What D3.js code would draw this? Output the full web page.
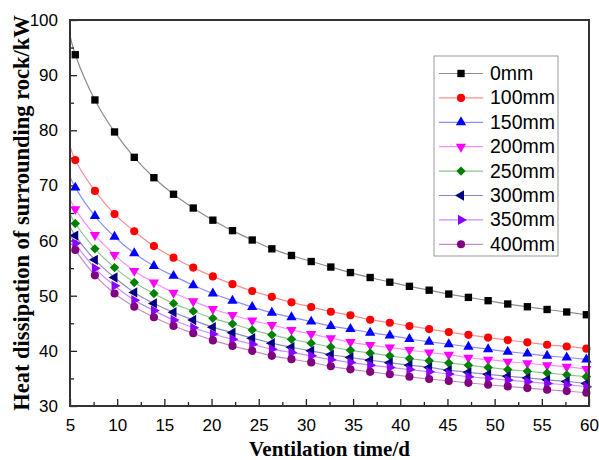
<!DOCTYPE html>
<html>
<head>
<meta charset="utf-8">
<script src="https://cdn.jsdelivr.net/npm/d3@7"></script>
<style>
  body { margin: 0; background: #fff; }
  .tick text { font-family: "Liberation Sans", Arial, sans-serif; font-size: 17px; fill: #000; }
</style>
</head>
<body>
<div id="chart"></div>
<script>
// ventilation time (d) of the marked points
const times = [5.56, 7.64, 9.72, 11.81, 13.89, 15.97, 18.06, 20.14, 22.22, 24.31, 26.39, 28.47, 30.56,
  32.64, 34.72, 36.81, 38.89, 40.97, 43.06, 45.14, 47.22, 49.31, 51.39, 53.47, 55.56, 57.64, 59.72];
const startTime = 5;

const seriesNames = ["0mm", "100mm", "150mm", "200mm", "250mm", "300mm", "350mm", "400mm"];
// value of each curve where it meets the y axis (t = 5)
const startValues = [97.2, 77.1, 71.6, 67.5, 64.8, 62.5, 61.0, 59.8];

const s0 = [93.7, 85.5, 79.7, 75.1, 71.4, 68.4, 65.9, 63.7, 61.8, 60.1, 58.5, 57.3, 56.2, 55.2, 54.2,
  53.3, 52.45, 51.7, 51.0, 50.3, 49.7, 49.1, 48.5, 48.0, 47.5, 47.05, 46.55];
const s100 = [74.6, 69.0, 64.8, 61.7, 59.0, 56.9, 55.1, 53.5, 52.1, 50.85, 49.8, 48.8, 47.95, 47.1, 46.45,
  45.65, 45.1, 44.5, 43.95, 43.4, 42.9, 42.4, 41.95, 41.55, 41.1, 40.8, 40.4];
const s150 = [69.6, 64.45, 60.7, 57.7, 55.4, 53.6, 51.9, 50.4, 49.1, 47.95, 46.9, 46.1, 45.3, 44.5, 43.95,
  43.3, 42.8, 42.15, 41.65, 41.2, 40.75, 40.3, 39.85, 39.5, 39.1, 38.8, 38.45];
const s200 = [65.7, 61.0, 57.4, 54.5, 52.4, 50.55, 49.0, 47.6, 46.5, 45.5, 44.7, 43.8, 43.05, 42.3, 41.6,
  41.05, 40.6, 40.15, 39.7, 39.3, 38.75, 38.4, 38.05, 37.75, 37.4, 37.1, 36.7];
const s250 = [63.1, 58.5, 55.1, 52.4, 50.4, 48.6, 47.2, 45.9, 44.9, 43.8, 42.9, 42.1, 41.4, 40.7, 40.1,
  39.6, 39.1, 38.6, 38.2, 37.8, 37.4, 37.0, 36.6, 36.3, 36.0, 35.65, 35.3];
const s300 = [60.9, 56.5, 53.3, 50.6, 48.6, 47.0, 45.6, 44.3, 43.3, 42.3, 41.4, 40.65, 40.0, 39.3, 38.8,
  38.3, 37.85, 37.4, 37.0, 36.5, 36.1, 35.75, 35.4, 35.1, 34.75, 34.45, 34.1];
const s350 = [59.5, 55.0, 51.8, 49.2, 47.3, 45.6, 44.2, 43.05, 42.1, 41.2, 40.3, 39.7, 39.1, 38.4, 37.9,
  37.4, 37.0, 36.6, 36.2, 35.8, 35.3, 35.0, 34.7, 34.4, 34.1, 33.85, 33.5];
const s400 = [58.3, 53.7, 50.4, 48.0, 46.1, 44.5, 43.2, 41.9, 40.9, 40.0, 39.1, 38.5, 37.9, 37.2, 36.65,
  36.2, 35.75, 35.3, 34.9, 34.55, 34.2, 33.85, 33.55, 33.25, 32.95, 32.7, 32.4];
const seriesValues = [s0, s100, s150, s200, s250, s300, s350, s400];

const xTicks = [5, 10, 15, 20, 25, 30, 35, 40, 45, 50, 55, 60];
const yTicks = [30, 40, 50, 60, 70, 80, 90, 100];

const colors = ["#000000", "#ff0000", "#0000ff", "#ff00ff", "#008000", "#000080", "#8a00ff", "#800080"];
const shapes = ["square", "circle", "up", "down", "diamond", "left", "right", "circle"];

const width = 599, height = 460;
const margin = { top: 20, right: 10, bottom: 54, left: 70 };
const gW = width - margin.left - margin.right;
const gH = height - margin.top - margin.bottom;

const svg = d3.select("#chart").append("svg")
  .attr("width", width)
  .attr("height", height);

const g = svg.append("g").attr("transform", `translate(${margin.left},${margin.top})`);

const x = d3.scaleLinear().domain([5, 60]).range([0, gW]);
const y = d3.scaleLinear().domain([30, 100]).range([gH, 0]);

// minor ticks
const xMinor = d3.range(7.5, 60, 5);
const yMinor = d3.range(35, 100, 10);

g.append("g").attr("transform", `translate(0,${gH})`)
  .call(d3.axisBottom(x).tickValues(xMinor).tickSize(-4).tickFormat(""))
  .call(a => a.select(".domain").remove());
g.append("g")
  .call(d3.axisLeft(y).tickValues(yMinor).tickSize(-4).tickFormat(""))
  .call(a => a.select(".domain").remove());

g.append("g").attr("transform", `translate(0,${gH})`)
  .call(d3.axisBottom(x).tickValues(xTicks).tickSize(-7).tickPadding(13).tickFormat(d3.format("d")))
  .call(a => a.select(".domain").remove());
g.append("g")
  .call(d3.axisLeft(y).tickValues(yTicks).tickSize(-7).tickPadding(12).tickFormat(d3.format("d")))
  .call(a => a.select(".domain").remove());

g.selectAll(".tick line").attr("stroke", "#222").attr("stroke-width", 1.3);

function symbolFor(shape) {
  let type = d3.symbolTriangle, rot = 0, sz = 46;
  if (shape === "square") { type = d3.symbolSquare; sz = 54; }
  if (shape === "circle") { type = d3.symbolCircle; sz = 52; }
  if (shape === "diamond") { type = d3.symbolSquare; rot = 45; sz = 44; }
  if (shape === "down") rot = 180;
  if (shape === "left") rot = -90;
  if (shape === "right") rot = 90;
  return { path: d3.symbol().type(type).size(sz)(), rot: rot };
}

const line = d3.line()
  .x(d => x(d[0]))
  .y(d => y(d[1]))
  .curve(d3.curveCatmullRom.alpha(0.5));

const plot = g.append("g");

seriesValues.forEach((vals, k) => {
  const pts = [[startTime, startValues[k]]].concat(times.map((t, i) => [t, vals[i]]));
  plot.append("path")
    .datum(pts)
    .attr("fill", "none")
    .attr("stroke", colors[k])
    .attr("stroke-opacity", 0.45)
    .attr("stroke-width", 1.2)
    .attr("d", line);
});

seriesValues.forEach((vals, k) => {
  const sym = symbolFor(shapes[k]);
  plot.append("g").selectAll("path")
    .data(times.map((t, i) => [t, vals[i]]))
    .join("path")
    .attr("d", sym.path)
    .attr("fill", colors[k])
    .attr("transform", d => `translate(${x(d[0])},${y(d[1])}) rotate(${sym.rot})`);
});

// frame
g.append("rect")
  .attr("width", gW).attr("height", gH)
  .attr("fill", "none")
  .attr("stroke", "#333")
  .attr("stroke-width", 2);

// legend
const lg = svg.append("g").attr("transform", "translate(434,56)");
lg.append("rect")
  .attr("width", 124).attr("height", 200)
  .attr("fill", "#fff")
  .attr("stroke", "#999")
  .attr("stroke-width", 1);
seriesNames.forEach((name, k) => {
  const yy = 17.5 + k * 24.4;
  const row = lg.append("g").attr("transform", `translate(0,${yy})`);
  row.append("line")
    .attr("x1", 5).attr("x2", 49)
    .attr("stroke", colors[k]).attr("stroke-opacity", 0.45).attr("stroke-width", 1.2);
  const sym = symbolFor(shapes[k]);
  row.append("path")
    .attr("d", sym.path)
    .attr("fill", colors[k])
    .attr("transform", `translate(27,0) rotate(${sym.rot})`);
  row.append("text")
    .attr("x", 56).attr("y", 6.5)
    .attr("font-family", "Liberation Sans, Arial, sans-serif")
    .attr("font-size", 19.5)
    .text(name);
});

// axis titles
svg.append("text")
  .attr("x", margin.left + gW / 2).attr("y", 456)
  .attr("text-anchor", "middle")
  .attr("font-family", "Liberation Serif, Times New Roman, serif")
  .attr("font-weight", "bold")
  .attr("font-size", 21)
  .text("Ventilation time/d");

svg.append("text")
  .attr("transform", `translate(29,${margin.top + gH / 2}) rotate(-90)`)
  .attr("text-anchor", "middle")
  .attr("font-family", "Liberation Serif, Times New Roman, serif")
  .attr("font-weight", "bold")
  .attr("font-size", 22.5)
  .text("Heat dissipation of surrounding rock/kW");
</script>
</body>
</html>
